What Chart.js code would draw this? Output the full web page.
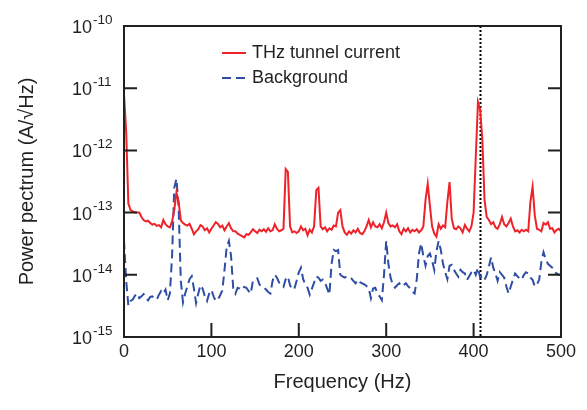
<!DOCTYPE html>
<html>
<head>
<meta charset="utf-8">
<script src="https://cdn.jsdelivr.net/npm/chart.js@4.4.1/dist/chart.umd.min.js"></script>
<style>
  html, body { margin: 0; padding: 0; background: #fff; }
  #wrap { width: 587px; height: 410px; }
</style>
</head>
<body>
<div id="wrap"><canvas id="spectrum"></canvas></div>
<script>
// spectra, one value every 2.5 Hz from 0 to 500 Hz
const freqStep = 2.5;

const thzCurrent = [
  8e-12, 2e-12, 1.4e-13, 1.1e-13, 1.05e-13, 1e-13, 1e-13, 1e-13, 8.5e-14, 7.6e-14,
  7.2e-14, 7.4e-14, 6.8e-14, 6.4e-14, 6.6e-14, 6.1e-14, 6.3e-14, 5.8e-14, 7.6e-14, 6.5e-14,
  6e-14, 5.8e-14, 7.2e-14, 1.1e-13, 2.1e-13, 1.5e-13, 7.5e-14, 6.8e-14, 6.4e-14, 6.2e-14,
  6.6e-14, 5.5e-14, 4.5e-14, 5e-14, 5.4e-14, 6.3e-14, 6e-14, 5.2e-14, 5.6e-14, 4.8e-14,
  5.5e-14, 6.2e-14, 7e-14, 6.6e-14, 5.8e-14, 6.2e-14, 5.2e-14, 6e-14, 6.8e-14, 5.6e-14,
  5e-14, 5e-14, 4.6e-14, 4.4e-14, 4.2e-14, 4e-14, 4.5e-14, 4.4e-14, 4.8e-14, 5.4e-14,
  5e-14, 4.7e-14, 5.3e-14, 5e-14, 5.4e-14, 4.9e-14, 5.6e-14, 5e-14, 5.2e-14, 6.5e-14,
  5.5e-14, 5e-14, 5.2e-14, 5.5e-14, 5e-13, 4.5e-13, 6e-14, 4.8e-14, 5e-14, 4.7e-14,
  5e-14, 6e-14, 5.2e-14, 5.5e-14, 4.3e-14, 5.3e-14, 4.8e-14, 6e-14, 2.3e-13, 2.5e-13,
  6e-14, 5.4e-14, 5.8e-14, 5e-14, 5.6e-14, 5.3e-14, 6.2e-14, 6e-14, 1e-13, 1.1e-13,
  6e-14, 4.8e-14, 4.4e-14, 5e-14, 4.6e-14, 5.2e-14, 4.8e-14, 5.5e-14, 4.7e-14, 4.5e-14,
  5e-14, 6e-14, 7.6e-14, 5.8e-14, 7e-14, 6e-14, 5.8e-14, 6.5e-14, 5.6e-14, 7e-14,
  1e-13, 6.8e-14, 6e-14, 6.2e-14, 5.8e-14, 6.5e-14, 5e-14, 4.5e-14, 5.5e-14, 5e-14,
  5.6e-14, 4.8e-14, 5.3e-14, 5e-14, 5.4e-14, 4.8e-14, 5.2e-14, 6e-14, 1.6e-13, 2.9e-13,
  1.3e-13, 6e-14, 4.6e-14, 4.1e-14, 6.5e-14, 5.5e-14, 6.2e-14, 5.8e-14, 1.5e-13, 3.1e-13,
  8e-14, 5.6e-14, 5.4e-14, 6e-14, 5.6e-14, 4.8e-14, 6.3e-14, 5.5e-14, 5e-14, 6e-14,
  1e-13, 8e-13, 6e-12, 4.5e-12, 1.5e-12, 1.6e-13, 8.5e-14, 7.6e-14, 6.5e-14, 7e-14,
  5.8e-14, 5.5e-14, 6.5e-14, 8.5e-14, 6.5e-14, 6e-14, 6.8e-14, 8e-14, 6e-14, 5e-14,
  5.2e-14, 4.8e-14, 5.3e-14, 5e-14, 5.3e-14, 5e-14, 1.5e-13, 2.6e-13, 9e-14, 5.5e-14,
  5.3e-14, 5e-14, 6.8e-14, 6.4e-14, 7e-14, 5.5e-14, 5.6e-14, 4.8e-14, 5.3e-14, 5.5e-14,
  5e-14
];

const background = [
  3.6e-14, 8e-15, 3.2e-15, 3.8e-15, 4e-15, 4.6e-15, 5e-15, 4.2e-15, 4.5e-15, 4.9e-15,
  4.3e-15, 3.9e-15, 4.4e-15, 4.5e-15, 4.2e-15, 4e-15, 4.8e-15, 5.5e-15, 5e-15, 5.8e-15,
  3.9e-15, 5e-15, 2e-14, 2.5e-13, 3.5e-13, 1.2e-13, 8e-15, 3.6e-15, 5e-15, 6.5e-15,
  8.5e-15, 9.5e-15, 6e-15, 3.5e-15, 5e-15, 6.8e-15, 6e-15, 4.5e-15, 3.8e-15, 5e-15,
  5.7e-15, 4.5e-15, 3.8e-15, 4e-15, 4.7e-15, 5.6e-15, 1.2e-14, 2.8e-14, 3.5e-14, 2e-14,
  6e-15, 5e-15, 6.2e-15, 6e-15, 5.7e-15, 6.4e-15, 6.2e-15, 5.5e-15, 5e-15, 8e-15,
  8.5e-15, 8.8e-15, 7e-15, 6.4e-15, 6.2e-15, 5.8e-15, 5.3e-15, 5e-15, 8e-15, 1e-14,
  9e-15, 7.5e-15, 7e-15, 6.4e-15, 8.5e-15, 9.4e-15, 6.8e-15, 5.8e-15, 6e-15, 8e-15,
  1.1e-14, 1.3e-14, 8.5e-15, 7e-15, 6.2e-15, 4.8e-15, 6e-15, 7.5e-15, 9.4e-15, 9e-15,
  8e-15, 8.4e-15, 7.5e-15, 6e-15, 4.8e-15, 1.5e-14, 2.5e-14, 2.4e-14, 2.5e-14, 1e-14,
  9.4e-15, 9e-15, 9.4e-15, 9.3e-15, 8.8e-15, 8e-15, 7.3e-15, 8.3e-15, 7.6e-15, 7.3e-15,
  7e-15, 6.6e-15, 6.1e-15, 4.2e-15, 6e-15, 6.2e-15, 5e-15, 4.5e-15, 3.9e-15, 1e-14,
  3.5e-14, 1.5e-14, 9e-15, 7e-15, 6.2e-15, 6.8e-15, 7.3e-15, 6.5e-15, 6.8e-15, 7.3e-15,
  6.6e-15, 6e-15, 5.3e-15, 5e-15, 8.5e-15, 2.2e-14, 3.2e-14, 2e-14, 1.4e-14, 2e-14,
  2.2e-14, 1.7e-14, 1.2e-14, 2.4e-14, 3.5e-14, 2.5e-14, 1.5e-14, 1.1e-14, 8.5e-15, 1.4e-14,
  1.45e-14, 1.2e-14, 1.05e-14, 9.3e-15, 1.2e-14, 1.1e-14, 1.05e-14, 8.3e-15, 9.5e-15, 1.1e-14,
  1.2e-14, 1e-14, 1.3e-14, 9e-15, 9.5e-15, 8.3e-15, 1e-14, 1.35e-14, 1.9e-14, 1.3e-14,
  1.05e-14, 8e-15, 1.1e-14, 1e-14, 9e-15, 6.5e-15, 5e-15, 6.5e-15, 8.3e-15, 1.05e-14,
  9.5e-15, 8.8e-15, 8.3e-15, 1e-14, 1.1e-14, 1.05e-14, 9e-15, 8.3e-15, 6.5e-15, 7e-15,
  8.3e-15, 1.6e-14, 2.3e-14, 1.8e-14, 1.5e-14, 1.4e-14, 1.3e-14, 1.1e-14, 1.05e-14, 1e-14,
  1e-14
];

const seriesLabels = ['THz tunnel current', 'Background'];
const xTicks = [0, 100, 200, 300, 400, 500];
const yExponents = [-10, -11, -12, -13, -14, -15];
const markerFreq = 407; // dotted line

const ink = '#231f20';
const font = "'Liberation Sans', Arial, sans-serif";
const redCol = '#ee2229';
const blueCol = '#2f4ea3';

const freqs = thzCurrent.map((_, i) => i * freqStep);
const toPoints = arr => arr.map((v, i) => ({ x: freqs[i], y: v }));

// frame, inward ticks, dotted marker, y labels with superscripts, legend
const decorations = {
  id: 'decorations',
  beforeDatasetsDraw(chart) {
    const { ctx, chartArea: a, scales: { x } } = chart;
    const px = Math.round(x.getPixelForValue(markerFreq)) + 0.5;
    ctx.save();
    ctx.strokeStyle = '#000';
    ctx.lineWidth = 2;
    ctx.setLineDash([2, 2]);
    ctx.beginPath();
    ctx.moveTo(px, a.top);
    ctx.lineTo(px, a.bottom);
    ctx.stroke();
    ctx.restore();
  },
  afterDatasetsDraw(chart) {
    const { ctx, chartArea: a, scales: { x, y } } = chart;
    ctx.save();
    ctx.strokeStyle = ink;
    ctx.lineWidth = 2;
    ctx.strokeRect(a.left, a.top, a.right - a.left, a.bottom - a.top);
    ctx.beginPath();
    xTicks.forEach(v => {
      const px = x.getPixelForValue(v);
      ctx.moveTo(px, a.bottom);
      ctx.lineTo(px, a.bottom - 14);
    });
    yExponents.forEach(e => {
      const py = y.getPixelForValue(Math.pow(10, e));
      ctx.moveTo(a.left, py);
      ctx.lineTo(a.left + 13, py);
      ctx.moveTo(a.right, py);
      ctx.lineTo(a.right - 13, py);
    });
    ctx.stroke();
    ctx.restore();
  },
  afterDraw(chart) {
    const { ctx, chartArea: a, scales: { y } } = chart;
    ctx.save();
    ctx.fillStyle = ink;
    ctx.textBaseline = 'middle';
    // y tick labels 10^n
    yExponents.forEach(e => {
      const py = y.getPixelForValue(Math.pow(10, e));
      ctx.font = '18px ' + font;
      ctx.textAlign = 'right';
      ctx.fillText('10', a.left - 32, py + 2);
      ctx.font = '13.5px ' + font;
      ctx.textAlign = 'left';
      ctx.fillText(String(e), a.left - 31, py - 6);
    });
    // legend
    chart.data.datasets.forEach((ds, i) => {
      const ly = a.top + 27 + i * 25;
      const lx = a.left + 98;
      ctx.strokeStyle = ds.borderColor;
      ctx.lineWidth = 2;
      ctx.setLineDash(ds.borderDash || []);
      ctx.beginPath();
      ctx.moveTo(lx, ly);
      ctx.lineTo(lx + 24, ly);
      ctx.stroke();
      ctx.setLineDash([]);
      ctx.font = '18px ' + font;
      ctx.textAlign = 'left';
      ctx.fillStyle = ink;
      ctx.fillText(ds.label, lx + 30, ly);
    });
    ctx.restore();
  }
};

const ctx = document.getElementById('spectrum').getContext('2d');
const spectrum = new Chart(ctx, {
  type: 'line',
  data: {
    datasets: [{
      label: seriesLabels[0],
      data: toPoints(thzCurrent),
      borderColor: redCol,
      borderWidth: 2,
      pointRadius: 0,
      tension: 0
    }, {
      label: seriesLabels[1],
      data: toPoints(background),
      borderColor: blueCol,
      borderWidth: 2,
      borderDash: [9, 5],
      pointRadius: 0,
      tension: 0
    }]
  },
  options: {
    responsive: true,
    maintainAspectRatio: false,
    animation: false,
    layout: { padding: { top: 26, right: 26, left: 0, bottom: 0 } },
    plugins: {
      legend: { display: false },
      tooltip: { enabled: false }
    },
    scales: {
      x: {
        type: 'linear',
        min: 0,
        max: 500,
        ticks: { stepSize: 100, padding: 4, color: ink, font: { family: font, size: 18 } },
        grid: { display: false, drawTicks: false },
        border: { display: false },
        title: {
          display: true,
          text: 'Frequency (Hz)',
          color: ink,
          font: { family: font, size: 20 },
          padding: { top: 0, bottom: 16 }
        },
        afterFit(s) { s.height = 73; }
      },
      y: {
        type: 'logarithmic',
        min: 1e-15,
        max: 1e-10,
        ticks: { display: false },
        grid: { display: false, drawTicks: false },
        border: { display: false },
        title: {
          display: true,
          text: 'Power pectrum (A/\u221AHz)',
          color: ink,
          font: { family: font, size: 20 },
          padding: { top: 15, bottom: 0 }
        },
        afterFit(s) { s.width = 124; }
      }
    }
  },
  plugins: [decorations]
});
</script>
</body>
</html>
